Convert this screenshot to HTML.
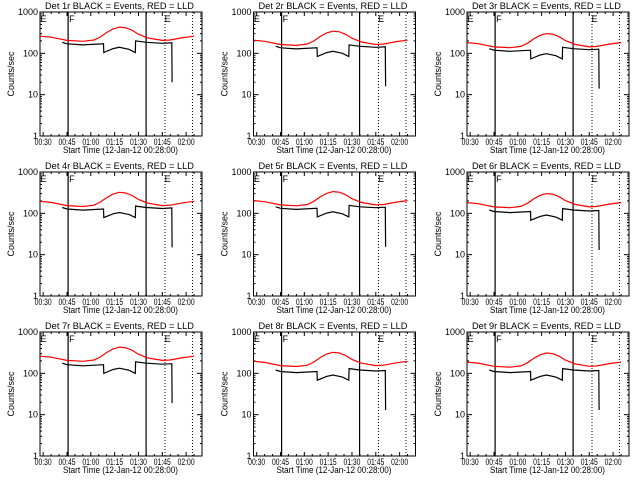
<!DOCTYPE html>
<html><head><meta charset="utf-8">
<style>
html,body{margin:0;padding:0;background:#fff;}
svg{display:block;font-family:"Liberation Sans",sans-serif;}
text{font-size:9px;fill:#000;}
</style></head>
<body>
<svg id="chart" width="640" height="480" viewBox="0 0 640 480" xmlns="http://www.w3.org/2000/svg"></svg>
<script>
// Data (time in minutes after 00:00, counts/sec)
const detectors = ['1r','2r','3r','4r','5r','6r','7r','8r','9r'];
const redTimes = [28,35,45,55,62,66,70,74,78,82,86,90,96,105,110,118,125];
const redBase = [260,245,205,195,210,250,320,390,430,415,360,290,235,205,210,240,260];
const blackTimes = [42,45,55,68,68.2,74,78,84,88,88.2,95,105,111,111.2];
const blackBase = [185,170,160,170,105,130,140,125,105,200,185,175,180,20];
const redScale = [1,0.8,0.7,0.75,0.78,0.7,1,0.75,0.72];
const blackScale = [1,0.8,0.7,0.75,0.78,0.65,0.95,0.65,0.65];
const xTickLabels = ['00:30','00:45','01:00','01:15','01:30','01:45','02:00'];
const xTickTimes = [30,45,60,75,90,105,120];
const yTickLabels = ['1','10','100','1000'];
const yTickValues = [1,10,100,1000];
const solidLines = [45.7,94.8];
const dottedLines = [106.7,124];
const markerLabels = ['E','F','E'];
const markerTimes = [28.3,46.3,106.5];

const NS='http://www.w3.org/2000/svg';
const svg=document.getElementById('chart');
function mk(tag,attrs,parent){const e=document.createElementNS(NS,tag);for(const k in attrs)e.setAttribute(k,attrs[k]);(parent||svg).appendChild(e);return e;}

const L=40,R=202,T=12,B=136,X0=28,X1=130;
detectors.forEach((det,i)=>{
  const ox=(i%3)*213.5, oy=Math.floor(i/3)*160;
  const g=mk('g',{transform:`translate(${ox.toFixed(1)},${oy})`});
  
  
  const xs=t=>L+(t-X0)/(X1-X0)*(R-L);
  const ys=v=>B-(Math.log10(v)/3)*(B-T);
  const title=mk('text',{x:45,y:9,textLength:149,lengthAdjust:'spacingAndGlyphs','font-size':'10'},g);
  title.textContent='Det '+det+' BLACK = Events, RED = LLD';
  
  
  const frame=mk('rect',{x:L,y:T,width:R-L,height:B-T,fill:'none',stroke:'#000','stroke-width':1},g);
  
  
  for(let t=30;t<=X1;t+=5){
    const major=(t%15===0);
    const len=major?4:2;
    mk('line',{x1:xs(t),x2:xs(t),y1:B,y2:B-len,stroke:'#000'},g);
    mk('line',{x1:xs(t),x2:xs(t),y1:T,y2:T+len,stroke:'#000'},g);
  }
  xTickLabels.forEach((lab,k)=>{
    const tx=mk('text',{x:xs(xTickTimes[k])-8.5,y:B+9,textLength:17,lengthAdjust:'spacingAndGlyphs','font-size':'8.5'},g);
    tx.textContent=lab;
    
    
  });
  const xl=mk('text',{x:63,y:B+17,textLength:115,lengthAdjust:'spacingAndGlyphs','font-size':'9'},g);
  xl.textContent='Start Time (12-Jan-12 00:28:00)';
  
  
  yTickValues.forEach((v,k)=>{
    const y=ys(v);
    mk('line',{x1:L,x2:L+5,y1:y,y2:y,stroke:'#000'},g);
    mk('line',{x1:R,x2:R-5,y1:y,y2:y,stroke:'#000'},g);
    const ty=mk('text',{x:L-2,y:y+3,'text-anchor':'end','font-size':'8.5'},g);
    ty.textContent=yTickLabels[k];
    
    
    if(v<1000)for(let m=2;m<10;m++){const ym=ys(v*m);
      mk('line',{x1:L,x2:L+2,y1:ym,y2:ym,stroke:'#000'},g);
      mk('line',{x1:R,x2:R-2,y1:ym,y2:ym,stroke:'#000'},g);}
  });
  const yl=mk('text',{x:0,y:0,'text-anchor':'middle',transform:`translate(14,${(T+B)/2}) rotate(-90)`,'font-size':'8'},g);
  yl.textContent='Counts/sec';
  
  
  solidLines.forEach(t=>{const l=mk('line',{x1:xs(t),x2:xs(t),y1:T,y2:B,stroke:'#000','stroke-width':1.2},g);
    });
  dottedLines.forEach(t=>{const l=mk('line',{x1:xs(t),x2:xs(t),y1:T,y2:B,stroke:'#000','stroke-dasharray':'1,2'},g);
    });
  markerLabels.forEach((m,k)=>{const tm=mk('text',{x:xs(markerTimes[k]),y:T+10,'font-size':'13'},g);
    tm.textContent=m;});
  const rp=redTimes.map((t,k)=>xs(t).toFixed(1)+','+ys(redBase[k]*redScale[i]).toFixed(1)).join(' ');
  const red=mk('polyline',{points:rp,fill:'none',stroke:'#ff0000','stroke-width':1.2},g);
  
  
  const bp=blackTimes.map((t,k)=>xs(t).toFixed(1)+','+ys(blackBase[k]*blackScale[i]).toFixed(1)).join(' ');
  const blk=mk('polyline',{points:bp,fill:'none',stroke:'#000','stroke-width':1.2},g);
  
  
});
</script>
</body></html>
